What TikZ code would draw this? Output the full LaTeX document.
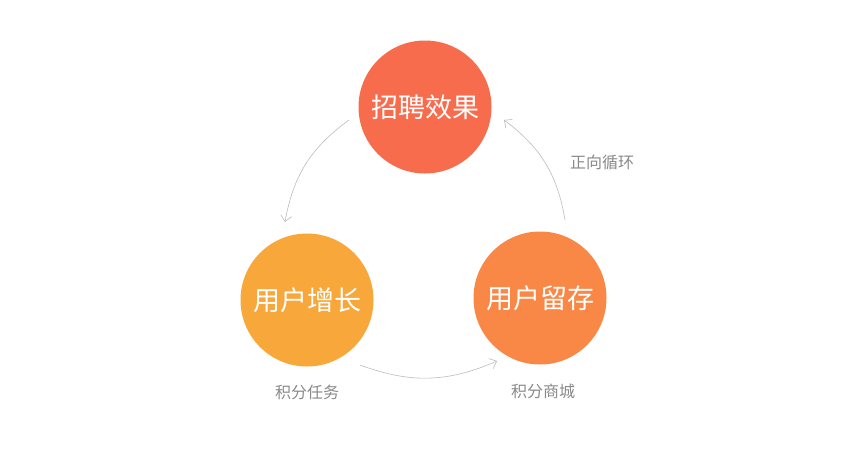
\documentclass[tikz,border=0pt]{standalone}
\usepackage{fontspec}
\newfontfamily\cjk{Noto Sans CJK SC}
\usetikzlibrary{arrows.meta}
\definecolor{ctop}{HTML}{F86C4E}
\definecolor{cleft}{HTML}{F8A73A}
\definecolor{cright}{HTML}{F98847}
\definecolor{arr}{HTML}{BDBDBD}
\definecolor{lab}{HTML}{8A8A8A}
\begin{document}
\begin{tikzpicture}[x=1pt,y=-1pt,
  circ/.style={circle,minimum size=133pt,inner sep=0pt,text=white,font=\cjk\fontsize{27}{30}\selectfont},
  lbl/.style={text=lab,font=\cjk\fontsize{16}{18}\selectfont},
  conn/.style={draw=arr,line width=0.6pt,-{Straight Barb[length=6pt,width=11pt,line width=0.6pt]}}]
\useasboundingbox[fill=white] (0,0) rectangle (850,456);
\node[circ,fill=ctop] (top) at (425,107) {招聘效果};
\node[circ,fill=cleft] (left) at (307,300) {用户增长};
\node[circ,fill=cright] (right) at (540,298) {用户留存};
\coordinate (a1) at (349,120); \coordinate (a2) at (285,222);
\coordinate (b1) at (360,365); \coordinate (b2) at (497,361);
\coordinate (c1) at (565,220); \coordinate (c2) at (504,120);
\draw[conn] (a1) to[bend right=22] (a2);
\draw[conn] (b1) to[bend right=22] (b2);
\draw[conn] (c1) to[bend right=22] (c2);
\node[lbl] (l1) at (602,162) {正向循环};
\node[lbl] (l2) at (307,392) {积分任务};
\node[lbl] (l3) at (543,391) {积分商城};
\end{tikzpicture}
\end{document}
